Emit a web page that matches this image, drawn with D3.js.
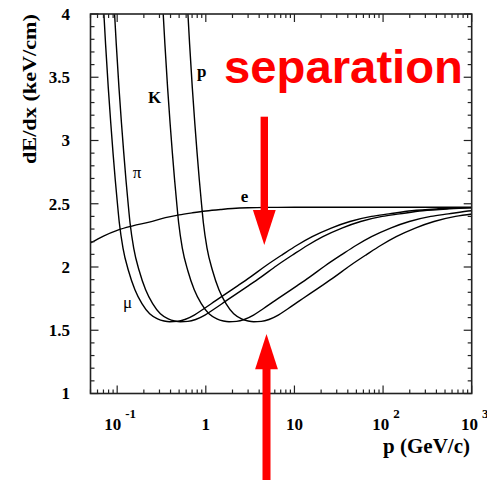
<!DOCTYPE html>
<html>
<head>
<meta charset="utf-8">
<script src="https://cdn.jsdelivr.net/npm/d3@7"></script>
<style>
  html, body { margin: 0; padding: 0; background: #fff; }
  svg { display: block; }
</style>
</head>
<body>
<svg id="chart" width="487" height="480"></svg>
<script>
// ---------- data ----------
const xTicks = [0.1, 1, 10, 100, 1000];
const xTickBase = ["10", "1", "10", "10", "10"];
const xTickExp = ["-1", "", "", "2", "3"];
const yTicks = [1, 1.5, 2, 2.5, 3, 3.5, 4];
const yTickLabels = ["1", "1.5", "2", "2.5", "3", "3.5", "4"];

// muon
const muP = [0.0698,0.0740,0.0793,0.0846,0.0898,0.0951,0.1004,0.1057,0.1163,0.1342,0.1586,0.1903,0.2325,0.2854,0.3382,0.3911,0.4757,0.5814,0.740,0.951,1.268,1.691,2.325,3.171,4.757,7.40,10.57,15.86,26.43,42.28,74.0,116.3,211.4,422.8,1057];
const muV = [4.08,3.76,3.42,3.14,2.90,2.69,2.51,2.35,2.15,1.97,1.82,1.71,1.63,1.59,1.573,1.567,1.570,1.585,1.620,1.670,1.730,1.790,1.855,1.920,2.010,2.100,2.170,2.240,2.310,2.360,2.400,2.420,2.445,2.460,2.470];
// pion
const piP = [0.0921,0.0977,0.1047,0.1117,0.1187,0.1256,0.1326,0.1396,0.1536,0.1773,0.2094,0.2513,0.3071,0.3769,0.4467,0.5165,0.6282,0.7678,0.977,1.256,1.675,2.234,3.071,4.188,6.282,9.77,13.96,20.94,34.9,55.84,97.7,153.6,279.2,558.4,1396];
const piV = [4.08,3.76,3.42,3.14,2.90,2.69,2.51,2.35,2.15,1.97,1.82,1.71,1.63,1.59,1.573,1.567,1.570,1.585,1.620,1.670,1.730,1.790,1.855,1.920,2.010,2.100,2.170,2.240,2.310,2.360,2.400,2.420,2.445,2.460,2.470];
// kaon
const kP = [0.3258,0.3456,0.3703,0.3950,0.4196,0.4443,0.4690,0.4937,0.5431,0.6270,0.7406,0.8887,1.086,1.333,1.580,1.827,2.222,2.715,3.456,4.443,5.924,7.899,10.86,14.81,22.22,34.56,49.37,74.06,123.4,197.5,345.6,543.1,987.4,1975];
const kV = [4.08,3.76,3.42,3.14,2.90,2.69,2.51,2.35,2.15,1.97,1.82,1.71,1.63,1.59,1.573,1.567,1.570,1.585,1.620,1.670,1.730,1.790,1.855,1.920,2.010,2.100,2.170,2.240,2.310,2.360,2.400,2.420,2.445,2.460];
// proton
const prP = [0.6193,0.6568,0.7037,0.7506,0.7976,0.8445,0.8914,0.9383,1.032,1.192,1.407,1.689,2.064,2.533,3.003,3.472,4.222,5.161,6.568,8.445,11.26,15.01,20.64,28.15,42.22,65.68,93.83,140.7,234.6,375.3,656.8,1032];
const prV = [4.08,3.76,3.42,3.14,2.90,2.69,2.51,2.35,2.15,1.97,1.82,1.71,1.63,1.59,1.573,1.567,1.570,1.585,1.620,1.670,1.730,1.790,1.855,1.920,2.010,2.100,2.170,2.240,2.310,2.360,2.400,2.420];
// electron
const eP = [0.05,0.07,0.1,0.15,0.23,0.35,0.5,0.7,1,1.5,2,3,5,10,100,1000];
const eV = [2.19,2.245,2.29,2.325,2.355,2.39,2.412,2.428,2.443,2.455,2.462,2.468,2.471,2.472,2.472,2.472];

const curveNames = ["mu", "pi", "K", "p", "e"];
const curveP = [muP, piP, kP, prP, eP];
const curveV = [muV, piV, kV, prV, eV];

// curve labels (data coordinates: p, dE/dx)
const labelText = ["p", "K", "\u03c0", "e", "\u03bc"];
const labelP = [0.796, 0.222, 0.150, 2.48, 0.116];
const labelV = [3.50, 3.296, 2.704, 2.514, 1.676];
const labelBold = [true, true, false, true, false];

// ---------- layout ----------
const svg = d3.select("#chart");
const W = 487, H = 480;
const mLeft = 90.5, mRight = 471.7, mTop = 14, mBottom = 393.5;

const x = d3.scaleLog().domain([0.05, 1000]).range([mLeft, mRight]);
const y = d3.scaleLinear().domain([1, 4]).range([mBottom, mTop]);

svg.append("rect").attr("width", W).attr("height", H).attr("fill", "#fff");

svg.append("defs").append("clipPath").attr("id", "clip")
  .append("rect").attr("x", mLeft).attr("y", mTop)
  .attr("width", mRight - mLeft).attr("height", mBottom - mTop);

// curves
const line = d3.line()
  .x(d => x(d[0])).y(d => y(d[1]))
  .curve(d3.curveMonotoneX);

const gCurves = svg.append("g").attr("clip-path", "url(#clip)");
curveNames.forEach((name, i) => {
  const pts = curveP[i].map((p, j) => [p, curveV[i][j]]);
  gCurves.append("path")
    .datum(pts)
    .attr("d", line)
    .attr("fill", "none")
    .attr("stroke", "#000")
    .attr("stroke-width", 1.4);
});

// ticks
const serif = "'Liberation Serif', 'Times New Roman', serif";
const majorLen = 8, minorLen = 4;
const xMinor = [];
[0.01, 0.1, 1, 10, 100].forEach(dec => {
  for (let k = 2; k <= 9; k++) {
    const v = dec * k;
    if (v >= 0.05 && v <= 1000) xMinor.push(v);
  }
});
const yMinor = d3.range(10, 41).map(v => v / 10).filter(v => Math.abs(v * 2 - Math.round(v * 2)) > 1e-6);

const tickG = svg.append("g").attr("stroke", "#222").attr("stroke-width", 1.2);
function xTick(v, len) {
  tickG.append("line").attr("x1", x(v)).attr("x2", x(v)).attr("y1", mBottom).attr("y2", mBottom - len);
  tickG.append("line").attr("x1", x(v)).attr("x2", x(v)).attr("y1", mTop).attr("y2", mTop + len);
}
function yTick(v, len) {
  tickG.append("line").attr("x1", mLeft).attr("x2", mLeft + len).attr("y1", y(v)).attr("y2", y(v));
  tickG.append("line").attr("x1", mRight).attr("x2", mRight - len).attr("y1", y(v)).attr("y2", y(v));
}
xTicks.forEach(v => xTick(v, majorLen));
xMinor.forEach(v => xTick(v, minorLen));
yTicks.forEach(v => yTick(v, majorLen));
yMinor.forEach(v => yTick(v, minorLen));

// frame
svg.append("rect")
  .attr("x", mLeft).attr("y", mTop)
  .attr("width", mRight - mLeft).attr("height", mBottom - mTop)
  .attr("fill", "none").attr("stroke", "#222").attr("stroke-width", 1.6);

// y tick labels
svg.append("g").selectAll("text").data(yTicks).join("text")
  .attr("x", 70).attr("y", d => y(d))
  .attr("dy", "0.35em")
  .attr("text-anchor", "end")
  .attr("font-family", serif).attr("font-weight", "bold").attr("font-size", 17)
  .text((d, i) => yTickLabels[i]);

// x tick labels (with superscripts)
xTicks.forEach((v, i) => {
  const exp = xTickExp[i];
  const t = svg.append("text")
    .attr("y", 430)
    .attr("font-family", serif).attr("font-weight", "bold").attr("font-size", 17);
  if (exp) {
    t.attr("x", x(v) + 3).attr("text-anchor", "middle");
    t.append("tspan").text(xTickBase[i]);
    t.append("tspan").attr("dx", 4).attr("dy", -12).attr("font-size", 13).text(exp);
  } else {
    t.attr("x", x(v)).attr("text-anchor", "middle").text(xTickBase[i]);
  }
});

// axis titles
svg.append("text")
  .attr("x", 470).attr("y", 453)
  .attr("text-anchor", "end")
  .attr("font-family", serif).attr("font-weight", "bold").attr("font-size", 21)
  .text("p (GeV/c)");

svg.append("text")
  .attr("transform", "translate(36,14) rotate(-90)")
  .attr("text-anchor", "end")
  .attr("font-family", serif).attr("font-weight", "bold").attr("font-size", 19)
  .attr("textLength", 150).attr("lengthAdjust", "spacingAndGlyphs")
  .text("dE/dx (keV/cm)");

// curve labels
labelText.forEach((t, i) => {
  svg.append("text")
    .attr("x", x(labelP[i])).attr("y", y(labelV[i]))
    .attr("font-family", serif)
    .attr("font-weight", labelBold[i] ? "bold" : "normal")
    .attr("font-size", 17)
    .text(t);
});

// red annotation
svg.append("text")
  .attr("x", 224).attr("y", 83)
  .attr("font-family", "'Liberation Sans', Arial, sans-serif")
  .attr("font-weight", "bold").attr("font-size", 46)
  .attr("fill", "#ff0000")
  .attr("textLength", 239).attr("lengthAdjust", "spacingAndGlyphs")
  .text("separation");

// down arrow
const ax1 = 264.3;
svg.append("rect").attr("x", ax1 - 3.7).attr("y", 116.7).attr("width", 7.4).attr("height", 210 - 116.7 + 1).attr("fill", "#ff0000");
svg.append("path").attr("d", `M${ax1 - 11.4},210 L${ax1 + 11.4},210 L${ax1},245 Z`).attr("fill", "#ff0000");
// up arrow
const ax2 = 266.5;
svg.append("rect").attr("x", ax2 - 4).attr("y", 368.5).attr("width", 8).attr("height", H - 368.5).attr("fill", "#ff0000");
svg.append("path").attr("d", `M${ax2 - 11.4},369.3 L${ax2 + 11.4},369.3 L${ax2},334 Z`).attr("fill", "#ff0000");
</script>
</body>
</html>
